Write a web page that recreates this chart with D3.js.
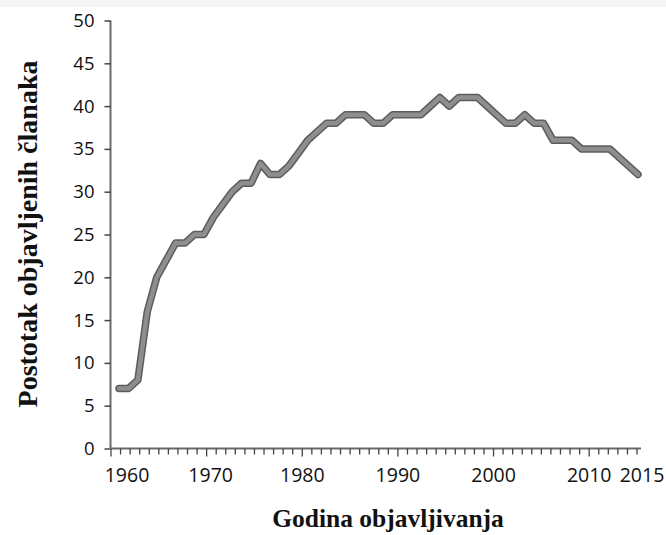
<!DOCTYPE html>
<html><head><meta charset="utf-8">
<script src="https://cdn.jsdelivr.net/npm/d3@7/dist/d3.min.js"></script>
<style>body{margin:0;background:#fff;}svg{display:block;}</style>
</head><body>
<script>
const years = d3.range(1960, 2016);
const values = [7,7,8,16,20,22,24,24,25,25,
  27,28.5,30,31,31,33.3,32,32,33,34.5,
  36,37,38,38,39,39,39,38,38,39,
  39,39,39,40,41,40,41,41,41,40,
  39,38,38,39,38,38,36,36,36,35,
  35,35,35,34,33,32];
const yTicks = [0,5,10,15,20,25,30,35,40,45,50];
const xLabels = [1960,1970,1980,1990,2000,2010,2015];
const xTitle = "Godina objavljivanja";
const yTitle = "Postotak objavljenih članaka";

const W = 666, H = 535;
const svg = d3.select("body").append("svg").attr("width", W).attr("height", H);
svg.append("rect").attr("x",0).attr("y",0).attr("width",W).attr("height",7).attr("fill","#f4f4f4");

const y = d3.scaleLinear().domain([0,50]).range([448.5, 20.5]);
const xAxisScale = d3.scaleLinear().domain([1960,2015]).range([110.5, 636.5]);
const xData = d3.scaleLinear().domain([1960,2015]).range([119, 638]);

const axisColor = "#6a6a6a";
const tickFont = "Open Sans, sans-serif";
// y axis
const ya = svg.append("g").attr("transform","translate(110.5,0)")
  .call(d3.axisLeft(y).tickValues(yTicks).tickSize(6).tickPadding(10).tickFormat(d3.format("d")));
ya.select(".domain").attr("stroke",axisColor).attr("stroke-width",2).attr("d","M0,"+y(50)+"V"+y(0));
ya.selectAll(".tick line").attr("stroke","#444").attr("stroke-width",1.5);
ya.selectAll(".tick text").attr("font-family",tickFont).attr("font-size",18.5).attr("fill","#111");

// x axis
const xa = svg.append("g").attr("transform","translate(0,448.5)")
  .call(d3.axisBottom(xAxisScale).tickValues(years).tickSize(6).tickFormat(""));
xa.select(".domain").attr("stroke",axisColor).attr("stroke-width",2).attr("d","M110.5,0H641");
xa.selectAll(".tick line").attr("stroke","#444").attr("stroke-width",1.3)
  .attr("y2", d => d % 10 === 0 ? 8 : 6);
xa.selectAll(".tick").filter(d => xLabels.includes(d)).append("text")
  .attr("y", 33).attr("x", d => d === 1960 ? 16 : (d === 2015 ? 5 : (d===1970?4:0)))
  .attr("text-anchor","middle").attr("fill","#111")
  .attr("font-family",tickFont).attr("font-size",19.5)
  .text(d => d);

// line
const line = d3.line().x((d,i) => xData(years[i])).y(d => y(d));
svg.append("path").datum(values).attr("d", line).attr("fill","none")
  .attr("stroke","#5c5c5c").attr("stroke-width",7.5).attr("stroke-linejoin","round").attr("stroke-linecap","round");
svg.append("path").datum(values).attr("d", line).attr("fill","none")
  .attr("stroke","#8e8e8e").attr("stroke-width",4.5).attr("stroke-linejoin","round").attr("stroke-linecap","round");

// titles
svg.append("text").attr("x",388).attr("y",527).attr("text-anchor","middle")
  .attr("font-family","Liberation Serif, Times New Roman, serif").attr("font-weight","bold")
  .attr("font-size",25.5).attr("fill","#111").text(xTitle);
svg.append("text").attr("transform","translate(37,234) rotate(-90)").attr("text-anchor","middle")
  .attr("font-family","Liberation Serif, Times New Roman, serif").attr("font-weight","bold")
  .attr("font-size",28).attr("fill","#111").text(yTitle);
</script>
</body></html>
